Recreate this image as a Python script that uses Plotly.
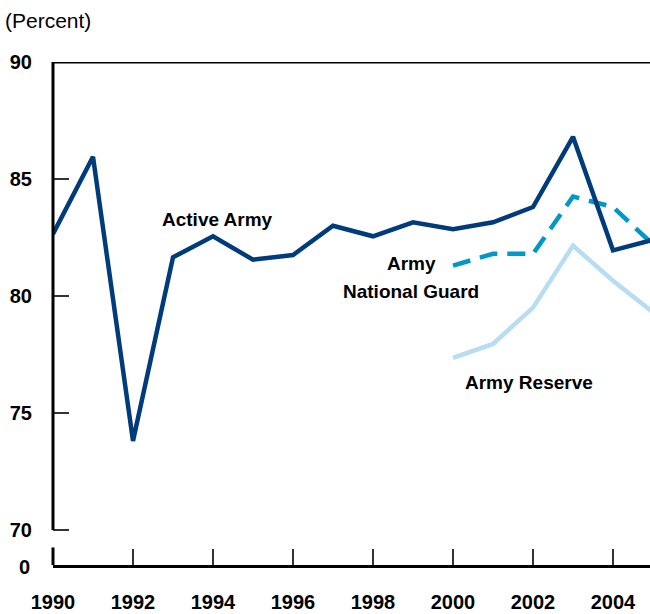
import plotly.graph_objects as go

# data
years = list(range(1990, 2006))
active_army = [82.65, 85.95, 73.8, 81.65, 82.55, 81.55, 81.75, 83.0, 82.55, 83.15, 82.85, 83.15, 83.8, 86.8, 81.95, 82.4]
guard_years = [2000, 2001, 2002, 2003, 2004, 2005]
national_guard = [81.3, 81.8, 81.8, 84.25, 83.8, 82.2]
reserve_years = [2000, 2001, 2002, 2003, 2004, 2005]
army_reserve = [77.35, 77.95, 79.5, 82.15, 80.65, 79.3]

ytick_vals = [70, 75, 80, 85, 90]
xtick_vals = [1990, 1992, 1994, 1996, 1998, 2000, 2002, 2004]

navy = "#003b7b"
teal = "#0098c8"
light = "#b7dcf3"
font_family = "Liberation Sans, Arial, sans-serif"

fig = go.Figure()
fig.add_trace(go.Scatter(x=reserve_years, y=army_reserve, mode="lines",
                         line=dict(color=light, width=4.5)))
fig.add_trace(go.Scatter(x=guard_years, y=national_guard, mode="lines",
                         line=dict(color=teal, width=4.5, dash="18px,10px")))
fig.add_trace(go.Scatter(x=years, y=active_army, mode="lines",
                         line=dict(color=navy, width=4.5)))

# axis frame: left line with a break between 70 and 0, top line
ax = dict(color="black", width=3)
fig.add_shape(type="line", xref="paper", yref="y", x0=0, x1=0, y0=90, y1=70, line=ax)
fig.add_shape(type="line", xref="paper", yref="y", x0=0, x1=0, y0=69.25, y1=68.5, line=ax)
fig.add_shape(type="line", xref="paper", yref="y", x0=0, x1=1, y0=90, y1=90, line=ax)

fig.add_annotation(text="0", xref="paper", yref="y", x=0, y=68.5, xanchor="right",
                   xshift=-21, yshift=-2, showarrow=False,
                   font=dict(family=font_family, size=20, color="black", weight="bold"))
fig.add_annotation(text="(Percent)", xref="paper", yref="paper", x=0, y=1, xshift=-50,
                   yshift=28, xanchor="left", yanchor="bottom", showarrow=False,
                   font=dict(family=font_family, size=21, color="black"))

lab = dict(family=font_family, size=19, color="black", weight="bold")
fig.add_annotation(text="Active Army", x=1994.12, y=83.25, showarrow=False, font=lab)
fig.add_annotation(text="Army", x=1998.95, y=81.4, showarrow=False, font=lab)
fig.add_annotation(text="National Guard", x=1998.95, y=80.2, showarrow=False, font=lab)
fig.add_annotation(text="Army Reserve", x=2001.9, y=76.3, showarrow=False, font=lab)

fig.update_xaxes(range=[1990, 2004.925], tickvals=xtick_vals, ticks="inside", ticklen=16,
                 tickwidth=2, tickcolor="#333", showline=True, linecolor="black",
                 linewidth=3, showgrid=False, zeroline=False, ticklabelstandoff=17,
                 automargin=False,
                 tickfont=dict(family=font_family, size=20, color="black", weight="bold"))
fig.update_yaxes(range=[68.5, 90], tickvals=ytick_vals, ticks="inside", ticklen=16,
                 tickwidth=2, tickcolor="#333", showline=False, showgrid=False,
                 zeroline=False, ticklabelstandoff=20, automargin=False,
                 tickfont=dict(family=font_family, size=20, color="black", weight="bold"))

fig.update_layout(width=650, height=614, margin=dict(l=53, r=0, t=62, b=49),
                  showlegend=False, plot_bgcolor="white", paper_bgcolor="white")

fig.write_html("out.html", config={"displayModeBar": False},
               post_script="document.body.style.margin='0';")
